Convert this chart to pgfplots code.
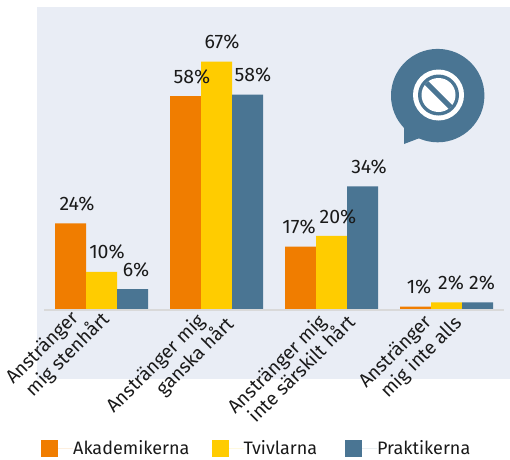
\documentclass[border=0pt]{standalone}
\usepackage{fontspec}
\setmainfont{Fira Sans}
\usepackage{graphicx}
\usepackage{pgfplots}
\pgfplotsset{compat=1.18}
\definecolor{panel}{HTML}{E9EDF5}
\definecolor{org}{HTML}{F07D00}
\definecolor{yel}{HTML}{FFCC00}
\definecolor{blu}{HTML}{4A7593}
\definecolor{txt}{HTML}{1A1A1A}
\newcommand\tlline[3]{\makebox[0pt][c]{\kern\dimexpr 2\dimexpr #1pt\relax\relax\raisebox{\dimexpr #2pt-5pt\relax}[0pt][0pt]{\rotatebox[origin=c]{45}{#3}}}}
\newcommand\tl[6]{\tlline{#1}{#2}{#5}\tlline{#3}{#4}{#6}}
\begin{document}
\begin{tikzpicture}[x=1pt,y=1pt]
\useasboundingbox (0,0) rectangle (510,459);
\begin{axis}[
  at={(37pt,80pt)}, anchor=south west,
  scale only axis, width=473pt, height=372pt,
  ybar=0pt, bar width=31pt,
  xmin=-0.561, xmax=3.552, ymin=-18.78, ymax=81.76,
  axis background/.style={fill=panel},
  axis line style={draw=none},
  ytick=\empty, xtick={0,1,2,3},
  major tick length=0pt,
  /pgf/number format/assume math mode=true,
  xticklabels={{\tl{-59}{30.5}{-34}{23.5}{Anstränger}{mig stenhårt}},{\tl{-60.5}{14.5}{-21.5}{21.5}{Anstränger mig}{ganska hårt}},{\tl{-54}{13.5}{-31}{8}{Anstränger mig}{inte särskilt hårt}},{\tl{-51}{26.5}{-25}{21}{Anstränger}{mig inte alls}}},
  xticklabel style={anchor=base, font=\fontsize{19}{24}\selectfont, text=txt, inner sep=0pt},
  visualization depends on={\thisrow{dx} \as \dx},
  point meta=explicit,
  nodes near coords={\pgfmathprintnumber[fixed,precision=0]{\pgfplotspointmeta}\%},
  every node near coord/.append style={font=\fontsize{19.5}{21}\selectfont, text=txt, anchor=center, xshift=\dx pt, yshift=19.5pt, inner sep=0pt},
  legend style={at={(0.0085,-0.1868)}, anchor=west, draw=none, fill=none, font=\fontsize{18}{20}\selectfont, text=txt, /tikz/every even column/.append style={column sep=25pt}, legend columns=3, inner sep=0pt, nodes={inner sep=0pt}},
  legend cell align=left,
  legend image code/.code={\fill[#1] (0pt,-8.5pt) rectangle (17pt,8.5pt); \path (0pt,0pt) -- (32pt,0pt);},
  clip=false,
]
\addplot[fill=org, draw=none] table[x=x,y=y,meta=l] {
x y l dx
0 23.3 24 6.5
1 57.7 58 6.5
2 17.0 17 -1.5
3 0.8 1 3.5
};
\addplot[fill=yel, draw=none] table[x=x,y=y,meta=l] {
x y l dx
0 10.2 10 5.5
1 67.0 67 5.5
2 19.9 20 6.5
3 1.9 2 4.5
};
\addplot[fill=blu, draw=none] table[x=x,y=y,meta=l] {
x y l dx
0 5.5 6 3.5
1 58.1 58 5.5
2 33.3 34 6.5
3 1.9 2 4.5
};
\legend{Akademikerna\kern-3pt,Tvivlarna\kern3pt,Praktikerna}
\end{axis}
% baseline
\draw[line width=2pt, draw=black!15] (44,149) -- (504,149);
% icon
\fill[blu] (437.7,363.4) circle (46.7);
\fill[blu] (404,340) -- (404,315) -- (425,323) -- cycle;
\fill[white] (438.5,364) circle (25.5);
\fill[blu] (438.5,364) circle (20.5);
\fill[white] (438.5,364) circle (17);
\draw[blu, line width=5pt] (426.5,376) -- (450.5,352);
\end{tikzpicture}
\end{document}
